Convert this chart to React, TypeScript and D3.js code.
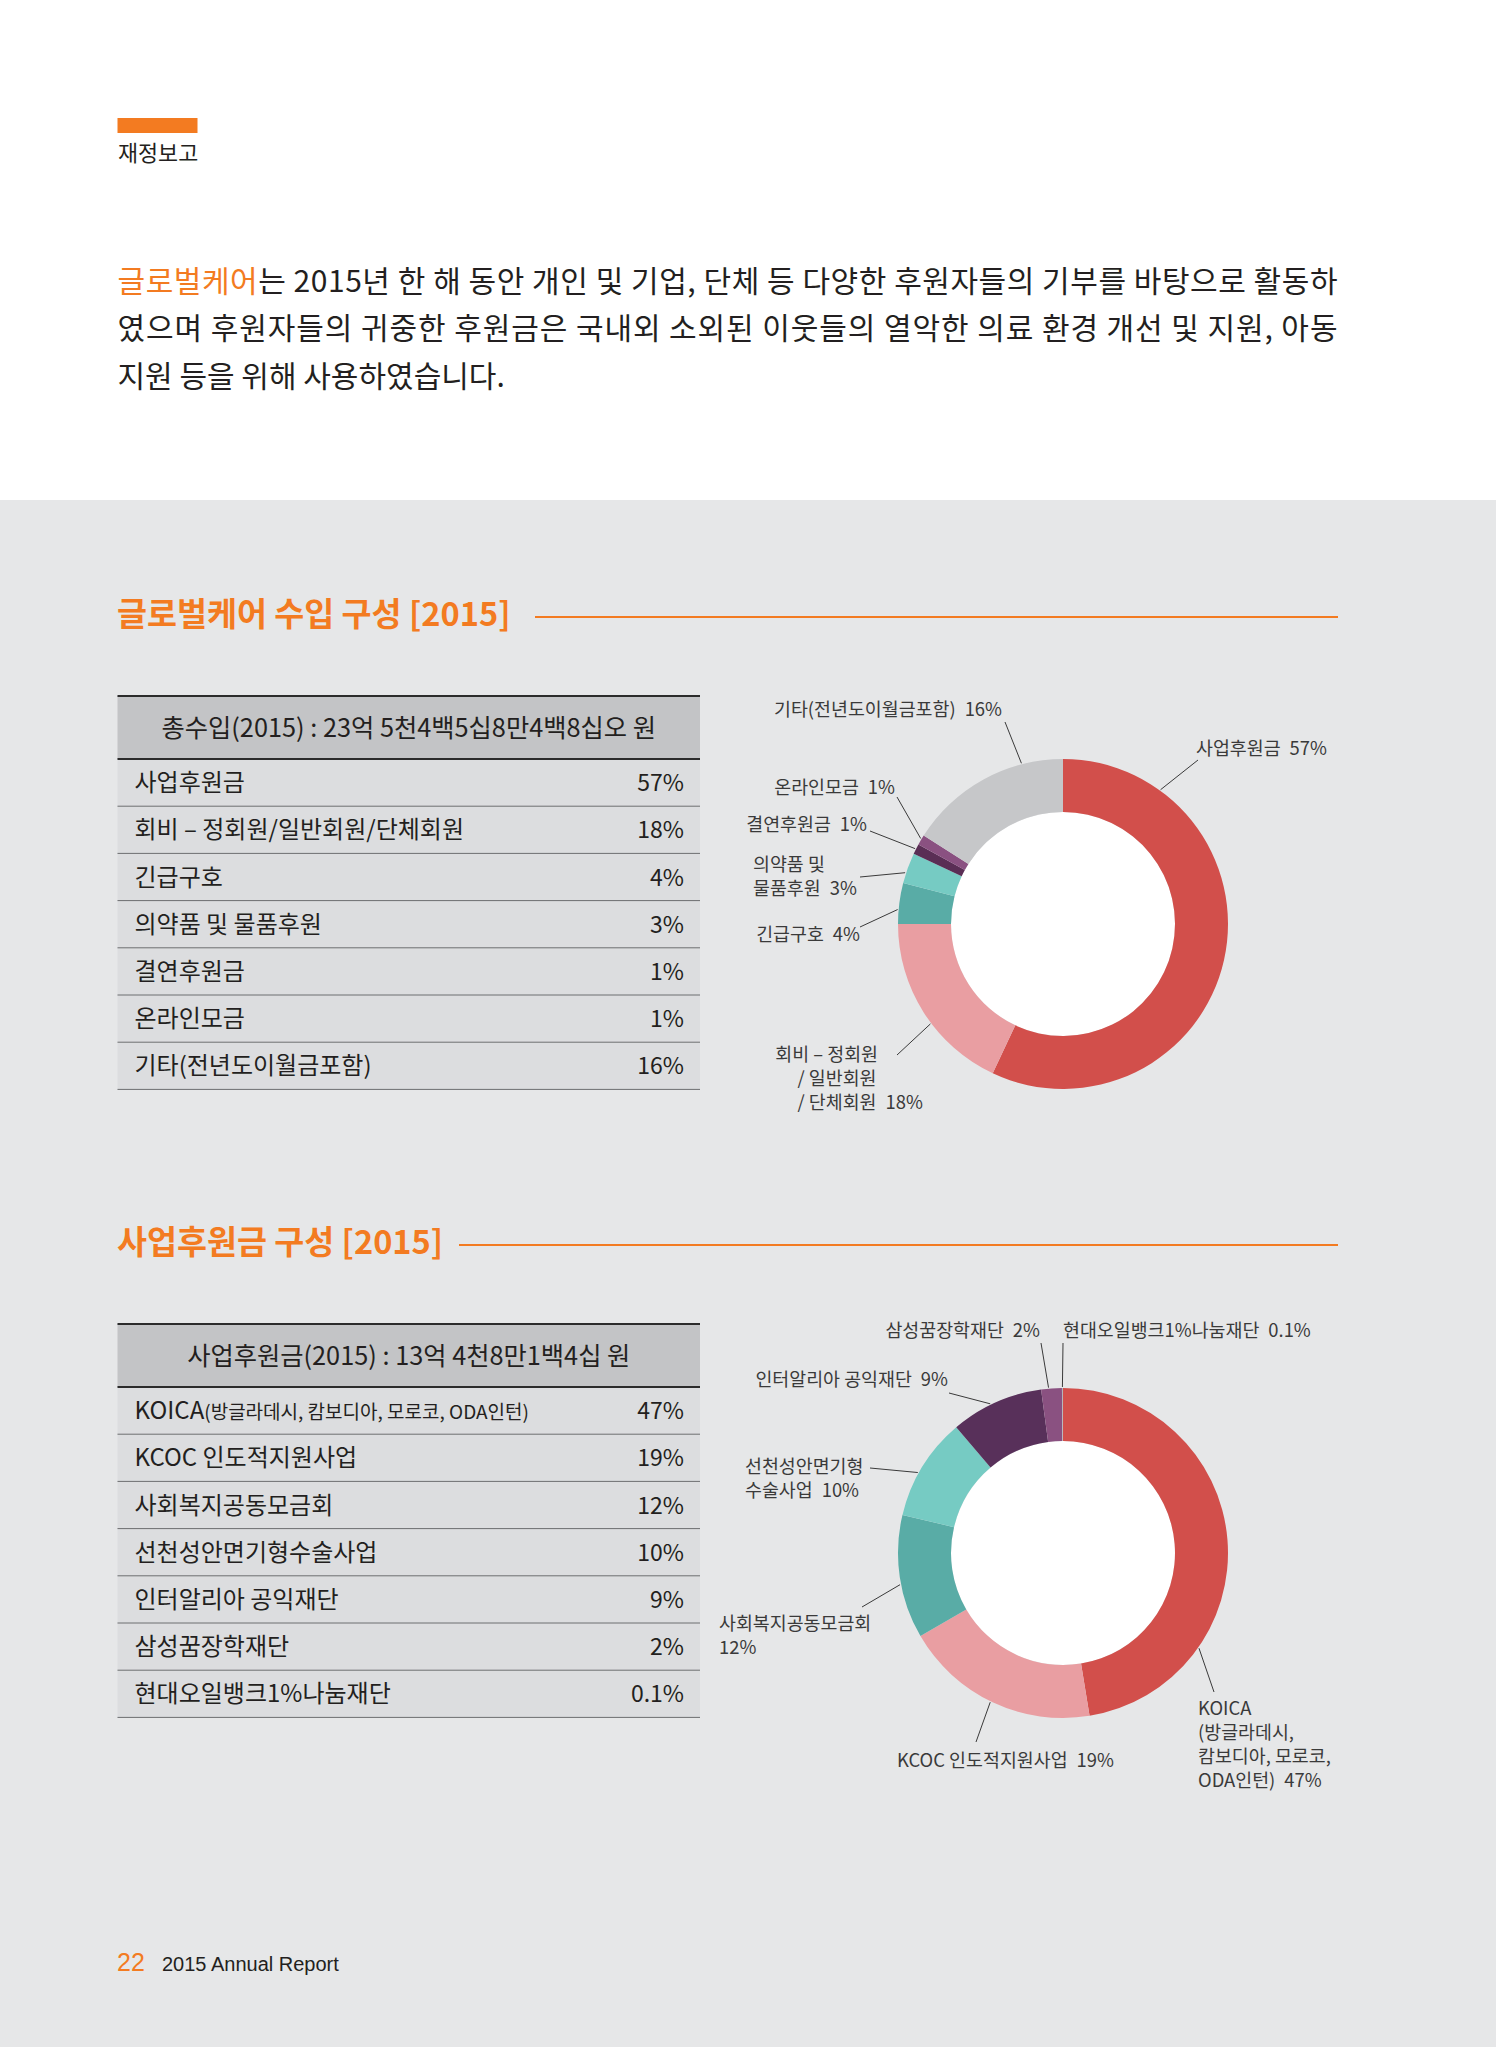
import * as d3 from "d3";

const KR = "'Noto Sans CJK KR', 'Noto Sans', sans-serif";
const LATIN = "'Liberation Sans', Arial, sans-serif";
const ORANGE = "#f37b21";
const INK = "#231f20";
const PAGE_GRAY = "#e6e7e8";

// ---- text content
const sectionLabel = "재정보고";
const introLead = "글로벌케어";
const introLines = [
  "는 2015년 한 해 동안 개인 및 기업, 단체 등 다양한 후원자들의 기부를 바탕으로 활동하",
  "였으며 후원자들의 귀중한 후원금은 국내외 소외된 이웃들의 열악한 의료 환경 개선 및 지원, 아동",
  "지원 등을 위해 사용하였습니다.",
];

// ---- income 2015
const incomeTitle = "글로벌케어 수입 구성 [2015]";
const incomeTotal = "총수입(2015) : 23억 5천4백5십8만4백8십오 원";
const incomeCats = [
  "사업후원금",
  "회비 – 정회원/일반회원/단체회원",
  "긴급구호",
  "의약품 및 물품후원",
  "결연후원금",
  "온라인모금",
  "기타(전년도이월금포함)",
];
const incomeValues = [57, 18, 4, 3, 1, 1, 16];
const incomePct = ["57%", "18%", "4%", "3%", "1%", "1%", "16%"];
const incomeChartText = [
  ["사업후원금"],
  ["회비 – 정회원", "/ 일반회원", "/ 단체회원"],
  ["긴급구호"],
  ["의약품 및", "물품후원"],
  ["결연후원금"],
  ["온라인모금"],
  ["기타(전년도이월금포함)"],
];
const incomeColors = ["#d24f4b", "#e99ea2", "#59aca6", "#76cbc3", "#5a2e55", "#8a5181", "#c6c7c9"];

// ---- project donations 2015
const supportTitle = "사업후원금 구성 [2015]";
const supportTotal = "사업후원금(2015) : 13억 4천8만1백4십 원";
const supportCats = [
  "KOICA",
  "KCOC 인도적지원사업",
  "사회복지공동모금회",
  "선천성안면기형수술사업",
  "인터알리아 공익재단",
  "삼성꿈장학재단",
  "현대오일뱅크1%나눔재단",
];
const supportNotes = ["(방글라데시, 캄보디아, 모로코, ODA인턴)", "", "", "", "", "", ""];
const supportValues = [47, 19, 12, 10, 9, 2, 0.1];
const supportPct = ["47%", "19%", "12%", "10%", "9%", "2%", "0.1%"];
const supportChartText = [
  ["KOICA", "(방글라데시,", "캄보디아, 모로코,", "ODA인턴)"],
  ["KCOC 인도적지원사업"],
  ["사회복지공동모금회", ""],
  ["선천성안면기형", "수술사업"],
  ["인터알리아 공익재단"],
  ["삼성꿈장학재단"],
  ["현대오일뱅크1%나눔재단"],
];
const supportColors = ["#d24f4b", "#e99ea2", "#59aca6", "#76cbc3", "#58305a", "#8a5181", "#b5b6b8"];

// ---- label layout (offsets from donut centre; angle = leader anchor on ring, degrees clockwise from top)
type LabelPos = { angle: number; lx: number; ly: number; tx: number | number[]; ty: number; anchor: string | string[] };

const incomeLayout: LabelPos[] = [
  { angle: 36, lx: 135, ly: -164, tx: 133, ty: -169, anchor: "start" },
  { angle: 233, lx: -166, ly: 131, tx: [-185, -265.5, -265.5], ty: 137, anchor: ["end", "start", "start"] },
  { angle: 275, lx: -203, ly: 3, tx: -203, ty: 17, anchor: "end" },
  { angle: 288, lx: -203, ly: -47, tx: -310, ty: -53, anchor: "start" },
  { angle: 297, lx: -193, ly: -93, tx: -196, ty: -93, anchor: "end" },
  { angle: 301, lx: -166, ly: -127, tx: -168, ty: -130, anchor: "end" },
  { angle: 345.5, lx: -58, ly: -202, tx: -61, ty: -208, anchor: "end" },
];

const supportLayout: LabelPos[] = [
  { angle: 125, lx: 151, ly: 139, tx: 135, ty: 162, anchor: "start" },
  { angle: 206, lx: -87, ly: 189, tx: -166, ty: 214, anchor: "start" },
  { angle: 259, lx: -201, ly: 54, tx: -344, ty: 77, anchor: "start" },
  { angle: 299, lx: -193, ly: -85, tx: -318, ty: -80, anchor: "start" },
  { angle: 334, lx: -114, ly: -160, tx: -115, ty: -167, anchor: "end" },
  { angle: 355, lx: -22, ly: -210, tx: -23, ty: -216, anchor: "end" },
  { angle: 359.8, lx: 0, ly: -210, tx: 0, ty: -216, anchor: "start" },
];

const TABLE_LEFT = 117.5;
const TABLE_RIGHT = 700;
const HEAD_H = 63;
const ROW_H = 47.2;

function Table({ top, total, cats, notes, pcts }: { top: number; total: string; cats: string[]; notes?: string[]; pcts: string[] }) {
  const y = d3
    .scaleBand<string>()
    .domain(cats)
    .range([top + HEAD_H, top + HEAD_H + ROW_H * cats.length]);
  const w = TABLE_RIGHT - TABLE_LEFT;
  return (
    <g>
      <rect x={TABLE_LEFT} y={top + HEAD_H} width={w} height={ROW_H * cats.length} fill="#dcdddf" />
      <rect x={TABLE_LEFT} y={top} width={w} height={HEAD_H} fill="#c3c4c6" />
      <text x={(TABLE_LEFT + TABLE_RIGHT) / 2} y={top + HEAD_H / 2 + 9} textAnchor="middle" fontSize={25.3} fill={INK}>
        {total}
      </text>
      {cats.map((c, i) => {
        const y0 = y(c) || 0;
        const cy = y0 + y.bandwidth() / 2 + 8.5;
        return (
          <g key={c}>
            <text x={TABLE_LEFT + 17} y={cy} fontSize={24} fill={INK}>
              {c}
              {notes && notes[i] ? <tspan fontSize={19}>{notes[i]}</tspan> : null}
            </text>
            <text x={TABLE_RIGHT - 16} y={cy} fontSize={23} fill={INK} textAnchor="end">
              {pcts[i]}
            </text>
            <line x1={TABLE_LEFT} x2={TABLE_RIGHT} y1={y0 + y.bandwidth()} y2={y0 + y.bandwidth()} stroke="#6d6e70" strokeWidth={1} />
          </g>
        );
      })}
      <line x1={TABLE_LEFT} x2={TABLE_RIGHT} y1={top} y2={top} stroke="#2b2b2b" strokeWidth={2} />
      <line x1={TABLE_LEFT} x2={TABLE_RIGHT} y1={top + HEAD_H} y2={top + HEAD_H} stroke="#2b2b2b" strokeWidth={2} />
    </g>
  );
}

const R_OUT = 165;
const R_IN = 112;

function Donut({ cx, cy, values, colors, texts, pcts, layout }: { cx: number; cy: number; values: number[]; colors: string[]; texts: string[][]; pcts: string[]; layout: LabelPos[] }) {
  const pie = d3.pie<number>().sort(null).value((d) => d);
  const arcs = pie(values);
  const arc = d3.arc<d3.PieArcDatum<number>>().innerRadius(R_IN).outerRadius(R_OUT);
  return (
    <g transform={`translate(${cx},${cy})`}>
      <circle r={R_IN} fill="#fff" />
      {arcs.map((a, i) => (
        <path key={i} d={arc(a) || ""} fill={colors[i]} />
      ))}
      {layout.map((p, i) => {
        const [rx, ry] = d3.pointRadial((p.angle * Math.PI) / 180, R_OUT + 1);
        const lines = texts[i];
        return (
          <g key={i}>
            <line x1={p.lx} y1={p.ly} x2={rx} y2={ry} stroke="#3a3a3a" strokeWidth={1} />
            {lines.map((ln, j) => {
              const tx = Array.isArray(p.tx) ? p.tx[j] : p.tx;
              const anchor = Array.isArray(p.anchor) ? p.anchor[j] : p.anchor;
              const last = j === lines.length - 1;
              return (
                <text key={j} x={tx} y={p.ty + j * 24} fontSize={18.4} fill="#3a3a3a" textAnchor={anchor}>
                  {ln}
                  {last ? <tspan dx={ln ? 9 : 0}>{pcts[i]}</tspan> : null}
                </text>
              );
            })}
          </g>
        );
      })}
    </g>
  );
}

function SectionTitle({ y, title, lineStart }: { y: number; title: string; lineStart: number }) {
  return (
    <g>
      <text x={117} y={y} fontSize={32.6} fontWeight={700} fill={ORANGE}>
        {title}
      </text>
      <line x1={lineStart} x2={1338} y1={y - 9} y2={y - 9} stroke={ORANGE} strokeWidth={2} />
    </g>
  );
}

export default function App() {
  const W = 1496;
  const H = 2047;
  return (
    <svg width={W} height={H} style={{ position: "absolute", left: 0, top: 0, display: "block" }} fontFamily={KR}>
      <rect width={W} height={H} fill="#fff" />
      <rect y={500} width={W} height={H - 500} fill={PAGE_GRAY} />

      {/* header */}
      <rect x={117.5} y={118} width={80} height={15} fill={ORANGE} />
      <text x={118} y={161} fontSize={21.8} fill={INK}>
        {sectionLabel}
      </text>

      {/* intro paragraph */}
      <text x={117.5} y={292} fontSize={30} fill={INK} textLength={1220} lengthAdjust="spacing">
        <tspan fill={ORANGE}>{introLead}</tspan>
        {introLines[0]}
      </text>
      <text x={117.5} y={339} fontSize={30} fill={INK} textLength={1220} lengthAdjust="spacing">
        {introLines[1]}
      </text>
      <text x={117.5} y={387} fontSize={30} fill={INK}>
        {introLines[2]}
      </text>

      {/* income */}
      <SectionTitle y={626} title={incomeTitle} lineStart={535} />
      <Table top={696} total={incomeTotal} cats={incomeCats} pcts={incomePct} />
      <Donut cx={1063} cy={924} values={incomeValues} colors={incomeColors} texts={incomeChartText} pcts={incomePct} layout={incomeLayout} />

      {/* project donations */}
      <SectionTitle y={1254} title={supportTitle} lineStart={459} />
      <Table top={1324} total={supportTotal} cats={supportCats} notes={supportNotes} pcts={supportPct} />
      <Donut cx={1063} cy={1553} values={supportValues} colors={supportColors} texts={supportChartText} pcts={supportPct} layout={supportLayout} />

      {/* footer */}
      <text x={117} y={1971} fontSize={25} fill={ORANGE} fontFamily={LATIN}>
        22
      </text>
      <text x={162} y={1971} fontSize={20} fill={INK} fontFamily={LATIN}>
        2015 Annual Report
      </text>
    </svg>
  );
}
